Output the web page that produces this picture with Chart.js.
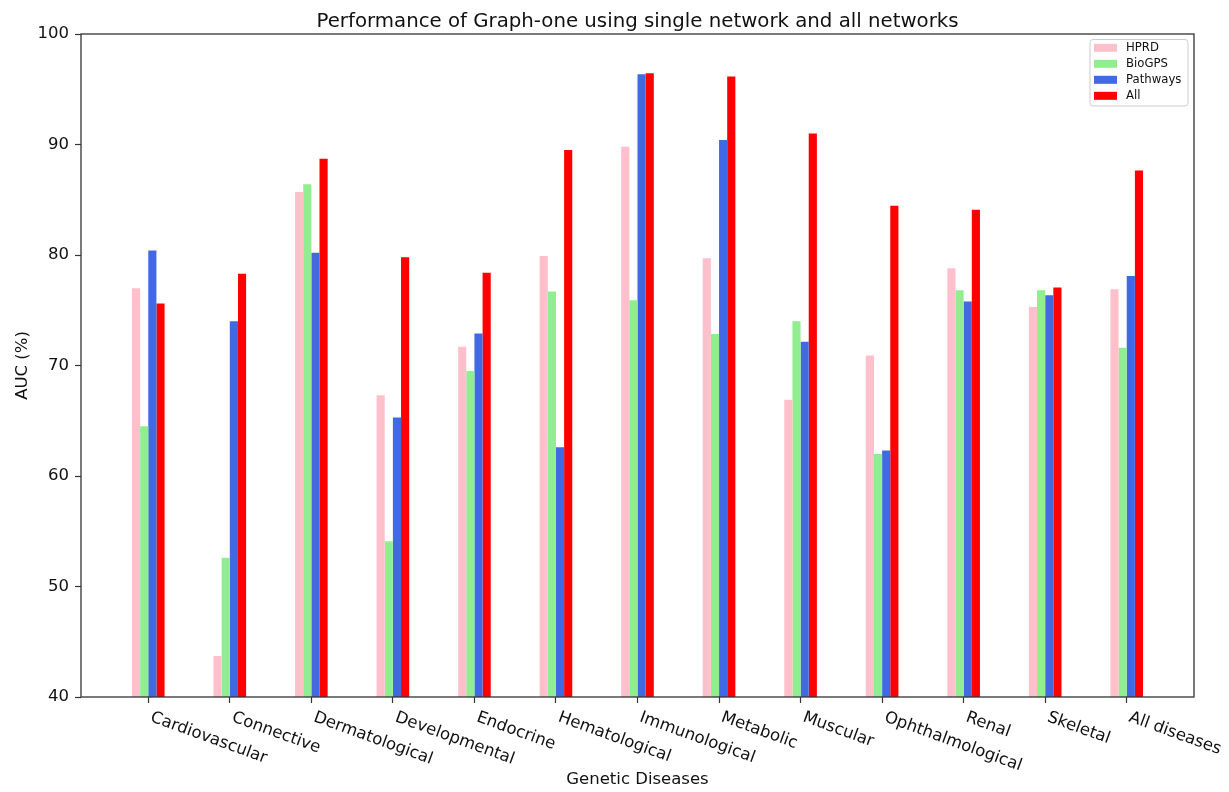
<!DOCTYPE html>
<html>
<head>
<meta charset="utf-8">
<script src="https://cdn.jsdelivr.net/npm/chart.js@4"></script>
<style>
  html, body { margin: 0; padding: 0; background: #ffffff; }
  #wrap { width: 1229px; height: 792px; }
</style>
</head>
<body>
<div id="wrap"><canvas id="chart" width="1229" height="792"></canvas></div>
<script>
// Disease categories on the x axis
const categories = ['Cardiovascular', 'Connective', 'Dermatological', 'Developmental', 'Endocrine',
  'Hematological', 'Immunological', 'Metabolic', 'Muscular', 'Ophthalmological', 'Renal', 'Skeletal', 'All diseases'];

// AUC (%) per network
const hprd     = [77.0, 43.7, 85.7, 67.3, 71.7, 79.9, 89.8, 79.7, 66.9, 70.9, 78.8, 75.3, 76.9];
const biogps   = [64.5, 52.6, 86.4, 54.1, 69.5, 76.7, 75.9, 72.85, 74.0, 62.0, 76.8, 76.8, 71.6];
const pathways = [80.4, 74.0, 80.2, 65.3, 72.9, 62.6, 96.35, 90.4, 72.15, 62.3, 75.8, 76.35, 78.1];
const allNets  = [75.6, 78.3, 88.7, 79.8, 78.4, 89.5, 96.45, 96.15, 91.0, 84.45, 84.1, 77.05, 87.65];

// y-axis tick labels
const yTicks = [40, 50, 60, 70, 80, 90, 100];

const TITLE = 'Performance of Graph-one using single network and all networks';
const X_TITLE = 'Genetic Diseases';
const Y_TITLE = 'AUC (%)';
const FONT = '"DejaVu Sans", "Liberation Sans", sans-serif';

const series = [
  { label: 'HPRD', values: hprd, color: '#ffc0cb' },
  { label: 'BioGPS', values: biogps, color: '#90ee90' },
  { label: 'Pathways', values: pathways, color: '#4169e1' },
  { label: 'All', values: allNets, color: '#ff0000' }
];

Chart.defaults.font.family = FONT;

// Frame, title, slanted category labels, axis titles and the legend box
const decorations = {
  id: 'decorations',
  afterDraw(chart) {
    const { ctx, chartArea: a, scales: { x } } = chart;
    ctx.save();

    // axes frame
    ctx.strokeStyle = '#333333';
    ctx.lineWidth = 1.3;
    ctx.strokeRect(a.left, a.top, a.right - a.left, a.bottom - a.top);

    // title
    ctx.fillStyle = '#111111';
    ctx.font = '19.75px ' + FONT;
    ctx.textAlign = 'center';
    ctx.textBaseline = 'alphabetic';
    ctx.fillText(TITLE, (a.left + a.right) / 2, 27);

    // category labels, slanted downward to the right
    ctx.font = '16.5px ' + FONT;
    ctx.textAlign = 'left';
    categories.forEach((c, i) => {
      const px = x.getPixelForValue(i);
      ctx.save();
      ctx.translate(px + 1.3, a.bottom + 24);
      ctx.rotate(20 * Math.PI / 180);
      ctx.fillText(c, 0, 0);
      ctx.restore();
    });

    // x-axis title
    ctx.textAlign = 'center';
    ctx.fillText(X_TITLE, (a.left + a.right) / 2, 784);

    // y-axis title
    ctx.save();
    ctx.translate(27, (a.top + a.bottom) / 2);
    ctx.rotate(-Math.PI / 2);
    ctx.fillText(Y_TITLE, 0, 0);
    ctx.restore();

    // legend
    const lx = 1090, ly = 39.5, lw = 98, lh = 66.5;
    ctx.beginPath();
    ctx.roundRect(lx, ly, lw, lh, 3);
    ctx.fillStyle = 'rgba(255,255,255,0.8)';
    ctx.fill();
    ctx.strokeStyle = '#cccccc';
    ctx.lineWidth = 1;
    ctx.stroke();

    ctx.font = '11.7px ' + FONT;
    ctx.textAlign = 'left';
    ctx.textBaseline = 'middle';
    chart.data.datasets.forEach((ds, i) => {
      const cy = 47.8 + i * 16;
      ctx.fillStyle = ds.backgroundColor;
      ctx.fillRect(1094, cy - 4, 23, 8);
      ctx.fillStyle = '#111111';
      ctx.fillText(ds.label, 1126, cy);
    });

    ctx.restore();
  }
};

new Chart(document.getElementById('chart'), {
  type: 'bar',
  data: {
    datasets: series.map(s => ({
      label: s.label,
      data: s.values.map((v, i) => ({ x: i, y: v })),
      backgroundColor: s.color,
      borderWidth: 0,
      categoryPercentage: 0.4,
      barPercentage: 1.0
    }))
  },
  options: {
    responsive: false,
    animation: false,
    devicePixelRatio: 1,
    layout: { padding: { top: 34, right: 35, left: 0, bottom: 0 } },
    plugins: {
      legend: { display: false },
      title: { display: false },
      tooltip: { enabled: false }
    },
    scales: {
      x: {
        type: 'linear',
        offset: false,
        min: -0.825,
        max: 12.825,
        afterBuildTicks(scale) {
          scale.ticks = categories.map((c, i) => ({ value: i }));
        },
        afterFit(scale) { scale.height = 95; },
        ticks: { display: false },
        grid: {
          offset: false,
          drawOnChartArea: false,
          drawTicks: true,
          tickLength: 6,
          tickColor: '#333333',
          tickWidth: 1.2
        },
        border: { display: false }
      },
      y: {
        min: 40,
        max: 100,
        afterBuildTicks(scale) {
          scale.ticks = yTicks.map(v => ({ value: v }));
        },
        afterFit(scale) { scale.width = 81; },
        ticks: {
          color: '#111111',
          font: { size: 16.5 },
          padding: 6
        },
        grid: {
          drawOnChartArea: false,
          drawTicks: true,
          tickLength: 6,
          tickColor: '#333333',
          tickWidth: 1.2
        },
        border: { display: false }
      }
    }
  },
  plugins: [decorations]
});
</script>
</body>
</html>
